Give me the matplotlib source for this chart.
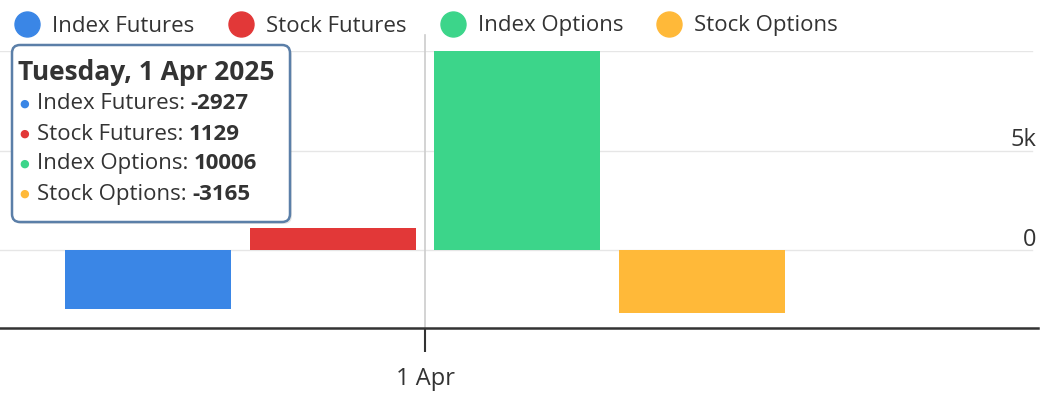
import matplotlib.pyplot as plt
from matplotlib.patches import FancyBboxPatch
from matplotlib.lines import Line2D

plt.rcParams['font.family'] = ['Open Sans', 'DejaVu Sans']

series = ['Index Futures', 'Stock Futures', 'Index Options', 'Stock Options']
values = [-2927, 1129, 10006, -3165]
colors = ['#3a86e6', '#e23838', '#3cd58a', '#ffb939']
category = '1 Apr'
date_label = 'Tuesday, 1 Apr 2025'
ytick_vals = [0, 5000, 10000]
ytick_labels = ['0', '5k', '']

W, H = 1048, 393
fig = plt.figure(figsize=(W / 100, H / 100), dpi=100)
ax = fig.add_axes([0, (H - 328) / H, 1038 / W, (328 - 51) / H])

step = 184.5
offsets = [-1.5, -0.5, 0.5, 1.5]
for off, v, c in zip(offsets, values, colors):
    ax.bar(off, v, width=0.9, color=c, zorder=3)

ax.set_xlim(-425 / step, (1038 - 425) / step)
ax.set_ylim(-3900, 10000)

# grid and right-side labels above gridlines
for t, lab in zip(ytick_vals, ytick_labels):
    ax.axhline(t, color='#e6e6e6', lw=1, zorder=1, xmax=1032 / 1038)
    ax.text(1036 / 1038, t - 80, lab, transform=ax.get_yaxis_transform(),
            ha='right', va='bottom', fontsize=17, color='#333333')
ax.set_yticks([])

ax.set_xticks([0])
ax.set_xticklabels([category], fontsize=17, color='#333333')
ax.tick_params(axis='x', length=17, width=1.5, color='#333333', pad=11)
for s in ['top', 'left', 'right']:
    ax.spines[s].set_visible(False)
ax.spines['bottom'].set_color('#333333')
ax.spines['bottom'].set_linewidth(1.8)

# crosshair
ax.axvline(0, ymin=0, ymax=(328 - 35) / 277, color='#cccccc', lw=1.2,
           clip_on=False, zorder=2)

# legend
handles = [Line2D([], [], marker='o', ls='', markersize=18, color=c) for c in colors]
fig.legend(handles, series, loc='center left', bbox_to_anchor=(16 / W, 1 - 26 / H),
           ncol=4, frameon=False, fontsize=16, handlelength=1.0,
           handletextpad=0.63, columnspacing=1.58, borderpad=0,
           borderaxespad=0, labelcolor='#333333')

# tooltip
x0, y0, x1, y1 = 12, 45, 290, 222
shadow = FancyBboxPatch((x0 + 2, H - y1 - 2), x1 - x0, y1 - y0,
                        boxstyle='round,pad=0,rounding_size=8',
                        transform=None, fc='#00000018', ec='none', zorder=9)
box = FancyBboxPatch((x0, H - y1), x1 - x0, y1 - y0,
                     boxstyle='round,pad=0,rounding_size=8',
                     transform=None, fc='white', ec='#5b7fa8', lw=1.8, zorder=10)
fig.patches.extend([shadow, box])
fig.text(18 / W, 1 - 72 / H, date_label, fontsize=19, fontweight='bold',
         color='#333333', va='center', zorder=11)
for i, (name, v, c) in enumerate(zip(series, values, colors)):
    yc = 1 - (104 + 30 * i) / H
    fig.text(19 / W, yc, '●', fontsize=8, color=c, va='center', zorder=11)
    t = fig.text(37 / W, yc, name + ':', fontsize=16, color='#333333',
                 va='center', zorder=11)
    fig.add_artist(plt.Annotation(str(v), xy=(1, 0.5), xycoords=t,
                                  xytext=(4, 0), textcoords='offset points',
                                  fontsize=16, fontweight='bold', color='#333333',
                                  va='center', zorder=11))

fig.savefig('out.png', dpi=100)
